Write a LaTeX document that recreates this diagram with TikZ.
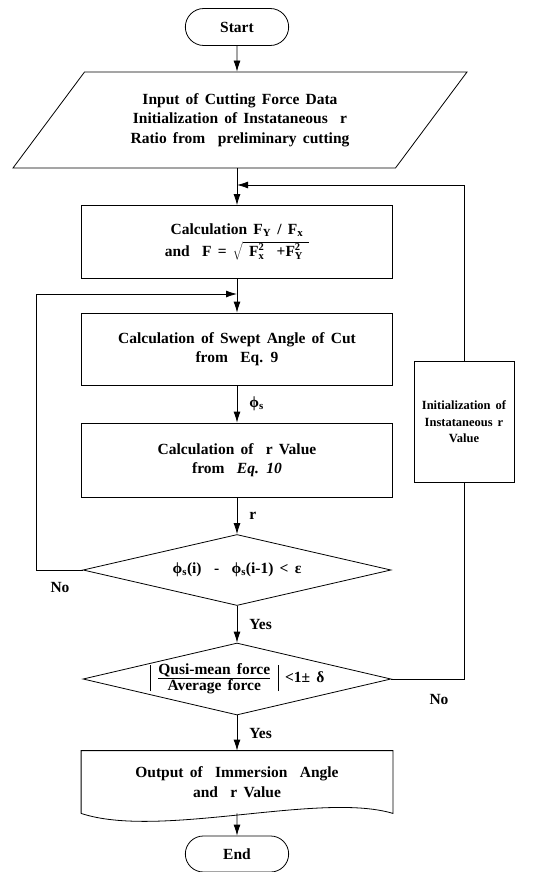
\documentclass[tikz,border=0pt]{standalone}
\usepackage{fontspec}
\setmainfont{Liberation Serif}[WordSpace=1.6]
\usetikzlibrary{shapes.geometric,shapes.misc,arrows.meta}

\newcommand\scr[1]{\hbox{\fontsize{10.5}{11}\selectfont #1}}
\newcommand\Fsq[1]{F$^{\scr{2}}_{\scr{#1}}$}
\newcommand\thickbar{\vrule width 1.3pt height 17pt depth 9pt}

\begin{document}
\begin{tikzpicture}[x=1pt, y=-1pt, line width=0.8pt,
                    font=\bfseries\fontsize{15.5}{19.5}\selectfont,
                    >={Latex[length=11pt,width=7pt]},
                    term/.style={draw, rounded rectangle, minimum width=110, minimum height=37},
                    box/.style={draw, rectangle, align=center, minimum width=311, minimum height=73},
                    test/.style={draw, diamond, aspect=4.3, inner sep=0pt, minimum width=308, minimum height=71},
                    lbl/.style={inner sep=0pt, right=12pt}]
  \useasboundingbox (0,0) rectangle (544,872);

  \node[term] (start) at (237,27) {Start};
  \node[draw, trapezium, trapezium left angle=40, trapezium right angle=140,
        trapezium stretches body, align=center, minimum width=454, minimum height=96]
    (inp) at (240,120) {Input of Cutting Force Data\\Initialization of Instataneous~~r\\Ratio from~~preliminary cutting};
  \node[box] (calc) at (237,242) {Calculation F\textsubscript{Y}~/ F\textsubscript{x}\\[2pt]and~~F~=~$\sqrt{\hbox{~\Fsq{x}~~+\Fsq{Y}~}}$};
  \node[box, minimum height=72] (swept) at (237,349) {Calculation of Swept Angle of Cut\\from~~Eq. 9};
  \node[box, minimum height=74] (rval) at (237,460) {Calculation of~~r Value\\from~~\textit{Eq. 10}};
  \node[test] (conv) at (237,570) {ϕ\textsubscript{s}(i)~~-~~ϕ\textsubscript{s}(i-1)~<~ε};
  \node[test, inner xsep=-40pt, minimum height=72] (ratio) at (237,679)
    {\thickbar~${\hbox{Qusi-mean force}\above 1pt\hbox{Average force}}$~\thickbar~<1±~δ};
  \node[align=center, minimum width=311, minimum height=62] (out) at (237,782) {Output of~~Immersion~~Angle\\and~~r~Value};
  \node[term, minimum height=36] (end) at (237,854) {End};
  \node[draw, align=center, minimum width=100, minimum height=121,
        font=\bfseries\fontsize{12.5}{16.5}\selectfont] (init) at (464,422) {Initialization of\\Instataneous r\\Value};

  \coordinate (join1) at (237,185);
  \coordinate (join2) at (237,294);

  % document shape with the wavy bottom
  \draw (out.south west) -- (out.north west) -- (out.north east) -- (out.south east)
        .. controls +(-73,-22) and +(78,26) .. (out.south west);

  \draw[->] (start) -- (start.south |- inp.north);
  \draw[->] (inp.south -| calc.north) -- (calc);
  \draw[->] (calc) -- (swept);
  \draw[->] (swept) -- node[lbl] (phis) {ϕ\textsubscript{s}} (rval);
  \draw[->] (rval) -- node[lbl] (rlbl) {r} (conv);
  \draw[->] (conv) -- node[lbl] (yes1) {Yes} (ratio);
  \draw[->] (ratio) -- node[lbl] (yes2) {Yes} (out);
  \draw[->] (out) -- (end);

  % loops back
  \draw[->] (conv.west) -- ++(-46,0) |- (join2);
  \draw (ratio.east) -| (init.south);
  \draw[->] (init.north) |- (join1);
  \node (no1) at (60,587) {No};
  \node (no2) at (439,699) {No};
\end{tikzpicture}
\end{document}
